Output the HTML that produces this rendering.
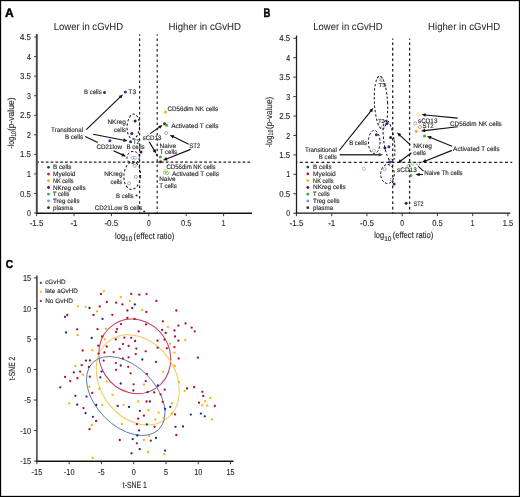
<!DOCTYPE html>
<html><head><meta charset="utf-8"><style>
html,body{margin:0;padding:0;background:#fff;width:520px;height:497px;overflow:hidden}
svg{display:block}
text{font-family:"Liberation Sans", sans-serif}
svg{will-change:transform}
text{stroke:#333;stroke-width:0.14px;text-rendering:geometricPrecision}
</style></head><body>
<svg width="520" height="497" viewBox="0 0 520 497" font-family='"Liberation Sans", sans-serif'>
<rect width="520" height="497" fill="#fff"/>
<text x="5.10" y="16.60" font-size="12.3" textLength="8.70" lengthAdjust="spacingAndGlyphs" font-weight="bold" fill="#000" style="stroke:#000;stroke-width:0.45px">A</text>
<text x="53.75" y="30.00" font-size="10.3" textLength="69.30" lengthAdjust="spacingAndGlyphs" fill="#2a2a2a" style="stroke-width:0.05px">Lower in cGvHD</text>
<text x="168.60" y="29.60" font-size="10.3" textLength="72.40" lengthAdjust="spacingAndGlyphs" fill="#2a2a2a" style="stroke-width:0.05px">Higher in cGvHD</text>
<line x1="36.80" y1="34.00" x2="36.80" y2="213.80" stroke="#4a4a4a" stroke-width="2"/>
<line x1="36.00" y1="213.20" x2="252.00" y2="213.20" stroke="#151515" stroke-width="1.4"/>
<line x1="34.00" y1="213.00" x2="37.00" y2="213.00" stroke="#333" stroke-width="0.9"/>
<text x="30.90" y="216.10" font-size="8.6" text-anchor="end" textLength="3.90" lengthAdjust="spacingAndGlyphs" fill="#262626">0</text>
<line x1="34.00" y1="193.45" x2="37.00" y2="193.45" stroke="#333" stroke-width="0.9"/>
<text x="30.90" y="196.55" font-size="8.6" text-anchor="end" textLength="10.90" lengthAdjust="spacingAndGlyphs" fill="#262626">0.5</text>
<line x1="34.00" y1="173.90" x2="37.00" y2="173.90" stroke="#333" stroke-width="0.9"/>
<text x="30.90" y="177.00" font-size="8.6" text-anchor="end" textLength="3.90" lengthAdjust="spacingAndGlyphs" fill="#262626">1</text>
<line x1="34.00" y1="154.35" x2="37.00" y2="154.35" stroke="#333" stroke-width="0.9"/>
<text x="30.90" y="157.45" font-size="8.6" text-anchor="end" textLength="10.90" lengthAdjust="spacingAndGlyphs" fill="#262626">1.5</text>
<line x1="34.00" y1="134.80" x2="37.00" y2="134.80" stroke="#333" stroke-width="0.9"/>
<text x="30.90" y="137.90" font-size="8.6" text-anchor="end" textLength="3.90" lengthAdjust="spacingAndGlyphs" fill="#262626">2</text>
<line x1="34.00" y1="115.25" x2="37.00" y2="115.25" stroke="#333" stroke-width="0.9"/>
<text x="30.90" y="118.35" font-size="8.6" text-anchor="end" textLength="10.90" lengthAdjust="spacingAndGlyphs" fill="#262626">2.5</text>
<line x1="34.00" y1="95.70" x2="37.00" y2="95.70" stroke="#333" stroke-width="0.9"/>
<text x="30.90" y="98.80" font-size="8.6" text-anchor="end" textLength="3.90" lengthAdjust="spacingAndGlyphs" fill="#262626">3</text>
<line x1="34.00" y1="76.15" x2="37.00" y2="76.15" stroke="#333" stroke-width="0.9"/>
<text x="30.90" y="79.25" font-size="8.6" text-anchor="end" textLength="10.90" lengthAdjust="spacingAndGlyphs" fill="#262626">3.5</text>
<line x1="34.00" y1="56.60" x2="37.00" y2="56.60" stroke="#333" stroke-width="0.9"/>
<text x="30.90" y="59.70" font-size="8.6" text-anchor="end" textLength="3.90" lengthAdjust="spacingAndGlyphs" fill="#262626">4</text>
<line x1="34.00" y1="37.05" x2="37.00" y2="37.05" stroke="#333" stroke-width="0.9"/>
<text x="30.90" y="40.15" font-size="8.6" text-anchor="end" textLength="10.90" lengthAdjust="spacingAndGlyphs" fill="#262626">4.5</text>
<line x1="36.60" y1="213.20" x2="36.60" y2="216.20" stroke="#222" stroke-width="0.9"/>
<text x="36.60" y="226.10" font-size="8.5" text-anchor="middle" textLength="13.90" lengthAdjust="spacingAndGlyphs" fill="#262626">-1.5</text>
<line x1="74.00" y1="213.20" x2="74.00" y2="216.20" stroke="#222" stroke-width="0.9"/>
<text x="74.00" y="226.10" font-size="8.5" text-anchor="middle" textLength="7.10" lengthAdjust="spacingAndGlyphs" fill="#262626">-1</text>
<line x1="111.40" y1="213.20" x2="111.40" y2="216.20" stroke="#222" stroke-width="0.9"/>
<text x="111.40" y="226.10" font-size="8.5" text-anchor="middle" textLength="13.90" lengthAdjust="spacingAndGlyphs" fill="#262626">-0.5</text>
<line x1="148.80" y1="213.20" x2="148.80" y2="216.20" stroke="#222" stroke-width="0.9"/>
<text x="148.80" y="226.10" font-size="8.5" text-anchor="middle" textLength="3.70" lengthAdjust="spacingAndGlyphs" fill="#262626">0</text>
<line x1="186.20" y1="213.20" x2="186.20" y2="216.20" stroke="#222" stroke-width="0.9"/>
<text x="186.20" y="226.10" font-size="8.5" text-anchor="middle" textLength="10.50" lengthAdjust="spacingAndGlyphs" fill="#262626">0.5</text>
<line x1="223.60" y1="213.20" x2="223.60" y2="216.20" stroke="#222" stroke-width="0.9"/>
<text x="223.60" y="226.10" font-size="8.5" text-anchor="middle" textLength="3.70" lengthAdjust="spacingAndGlyphs" fill="#262626">1</text>
<text transform="translate(13.6 148.6) rotate(-90)" font-size="9" fill="#262626"><tspan textLength="11.8" lengthAdjust="spacingAndGlyphs">-log</tspan><tspan font-size="6.8" dy="1.9" textLength="5.8" lengthAdjust="spacingAndGlyphs">10</tspan><tspan dy="-1.9" textLength="33.5" lengthAdjust="spacingAndGlyphs">(p-value)</tspan></text>
<text x="115.1" y="238.8" font-size="9" fill="#262626"><tspan textLength="10" lengthAdjust="spacingAndGlyphs">log</tspan><tspan font-size="6.7" dy="2.1" textLength="7.2" lengthAdjust="spacingAndGlyphs">10</tspan><tspan dy="-2.1" dx="1.3" textLength="40.8" lengthAdjust="spacingAndGlyphs">(effect ratio)</tspan></text>
<line x1="139.60" y1="34.30" x2="139.60" y2="213.00" stroke="#222" stroke-width="1.2" stroke-dasharray="2.3 2.95" stroke-dashoffset="0.95"/>
<line x1="157.20" y1="34.30" x2="157.20" y2="213.00" stroke="#222" stroke-width="1.2" stroke-dasharray="2.3 2.95" stroke-dashoffset="0.95"/>
<line x1="37.50" y1="162.20" x2="252.00" y2="162.20" stroke="#222" stroke-width="1.2" stroke-dasharray="2.7 2.1" stroke-dashoffset="1.3"/>
<circle cx="48.50" cy="167.30" r="1.4" fill="#1d3c84"/>
<text x="53.00" y="169.40" font-size="6.3" textLength="18.50" lengthAdjust="spacingAndGlyphs" fill="#262626">B cells</text>
<circle cx="48.50" cy="174.03" r="1.4" fill="#c0142e"/>
<text x="53.00" y="176.13" font-size="6.3" textLength="22.50" lengthAdjust="spacingAndGlyphs" fill="#262626">Myeloid</text>
<circle cx="48.50" cy="180.76" r="1.4" fill="#f2b20a"/>
<text x="53.00" y="182.86" font-size="6.3" textLength="20.50" lengthAdjust="spacingAndGlyphs" fill="#262626">NK cells</text>
<circle cx="48.50" cy="187.49" r="1.4" fill="#4a1468"/>
<text x="53.00" y="189.59" font-size="6.3" textLength="32.60" lengthAdjust="spacingAndGlyphs" fill="#262626">NKreg cells</text>
<circle cx="48.50" cy="194.22" r="1.4" fill="#4aa93a"/>
<text x="53.00" y="196.32" font-size="6.3" textLength="16.50" lengthAdjust="spacingAndGlyphs" fill="#262626">T cells</text>
<circle cx="48.50" cy="200.95" r="1.4" fill="#58a6e0"/>
<text x="53.00" y="203.05" font-size="6.3" textLength="26.50" lengthAdjust="spacingAndGlyphs" fill="#262626">Treg cells</text>
<circle cx="48.50" cy="207.68" r="1.4" fill="#4a260c"/>
<text x="53.00" y="209.78" font-size="6.3" textLength="20.00" lengthAdjust="spacingAndGlyphs" fill="#262626">plasma</text>
<ellipse cx="133.30" cy="126.50" rx="6.2" ry="12.4" transform="rotate(3 133.30 126.50)" fill="none" stroke="#111" stroke-width="1.0" stroke-dasharray="2.4 1.9"/>
<ellipse cx="133.20" cy="157.40" rx="6.2" ry="6.0" transform="rotate(0 133.20 157.40)" fill="none" stroke="#111" stroke-width="1.0" stroke-dasharray="2.4 1.9"/>
<ellipse cx="132.20" cy="175.60" rx="8.3" ry="13.8" transform="rotate(4 132.20 175.60)" fill="none" stroke="#111" stroke-width="1.0" stroke-dasharray="2.4 1.9"/>
<circle cx="104.50" cy="92.40" r="1.5" fill="#1d3c84"/>
<circle cx="125.30" cy="92.10" r="1.5" fill="#1d3c84"/>
<circle cx="135.10" cy="120.90" r="1.5" fill="#4a1468"/>
<circle cx="131.80" cy="133.40" r="1.5" fill="#4a1468"/>
<circle cx="130.60" cy="141.70" r="1.5" fill="#1d3c84"/>
<circle cx="109.90" cy="140.80" r="1.5" fill="#1d3c84"/>
<circle cx="141.00" cy="151.90" r="1.5" fill="#4a1468"/>
<circle cx="132.60" cy="157.90" r="1.55" fill="none" stroke="#6a90cc" stroke-width="0.55"/>
<circle cx="134.90" cy="157.90" r="1.55" fill="none" stroke="#6a90cc" stroke-width="0.55"/>
<circle cx="134.60" cy="165.90" r="1.55" fill="none" stroke="#8a5aa8" stroke-width="0.55"/>
<circle cx="135.90" cy="177.00" r="1.55" fill="none" stroke="#8a5aa8" stroke-width="0.55"/>
<circle cx="129.10" cy="183.40" r="1.55" fill="none" stroke="#8a5aa8" stroke-width="0.55"/>
<circle cx="136.60" cy="195.50" r="1.1" fill="#1d3c84"/>
<circle cx="144.20" cy="211.70" r="1.1" fill="#1d3c84"/>
<circle cx="165.40" cy="111.90" r="1.5" fill="#f2b20a"/>
<circle cx="164.60" cy="123.80" r="1.5" fill="#4a260c"/>
<circle cx="166.60" cy="125.20" r="1.5" fill="#4aa93a"/>
<circle cx="166.10" cy="133.00" r="1.55" fill="none" stroke="#8b6a4a" stroke-width="0.55"/>
<circle cx="157.00" cy="155.00" r="1.2" fill="#4a260c"/>
<circle cx="160.30" cy="157.10" r="1.5" fill="#4aa93a"/>
<circle cx="160.50" cy="161.80" r="1.5" fill="#4a260c"/>
<circle cx="165.90" cy="170.80" r="1.55" fill="none" stroke="#f2b20a" stroke-width="0.55"/>
<circle cx="164.80" cy="172.60" r="1.55" fill="none" stroke="#4aa93a" stroke-width="0.55"/>
<circle cx="167.10" cy="173.20" r="1.55" fill="none" stroke="#4aa93a" stroke-width="0.55"/>
<text x="101.70" y="93.90" font-size="6.6" text-anchor="end" textLength="17.70" lengthAdjust="spacingAndGlyphs" fill="#262626">B cells</text>
<text x="128.30" y="94.20" font-size="6.6" textLength="7.80" lengthAdjust="spacingAndGlyphs" fill="#262626">T3</text>
<text x="125.90" y="123.70" font-size="6.6" text-anchor="end" textLength="18.50" lengthAdjust="spacingAndGlyphs" fill="#262626">NKreg</text>
<text x="125.90" y="131.70" font-size="6.6" text-anchor="end" textLength="11.80" lengthAdjust="spacingAndGlyphs" fill="#262626">cells</text>
<text x="83.10" y="131.80" font-size="6.6" text-anchor="end" textLength="32.00" lengthAdjust="spacingAndGlyphs" fill="#262626">Transitional</text>
<text x="83.10" y="139.40" font-size="6.6" text-anchor="end" textLength="18.20" lengthAdjust="spacingAndGlyphs" fill="#262626">B cells</text>
<text x="96.40" y="149.10" font-size="6.6" textLength="25.60" lengthAdjust="spacingAndGlyphs" fill="#262626">CD21low</text>
<text x="133.00" y="143.70" font-size="6.6" textLength="6.80" lengthAdjust="spacingAndGlyphs" fill="#262626">T2</text>
<text x="126.40" y="149.20" font-size="6.6" textLength="18.30" lengthAdjust="spacingAndGlyphs" fill="#262626">B cells</text>
<text x="142.70" y="140.00" font-size="6.6" textLength="18.60" lengthAdjust="spacingAndGlyphs" fill="#262626">sCD13</text>
<text x="167.60" y="110.80" font-size="6.6" textLength="50.50" lengthAdjust="spacingAndGlyphs" fill="#262626">CD56dim NK cells</text>
<text x="171.20" y="128.00" font-size="6.6" textLength="47.30" lengthAdjust="spacingAndGlyphs" fill="#262626">Activated T cells</text>
<text x="159.60" y="147.70" font-size="6.6" textLength="16.50" lengthAdjust="spacingAndGlyphs" fill="#262626">Naive</text>
<text x="159.60" y="154.00" font-size="6.6" textLength="17.60" lengthAdjust="spacingAndGlyphs" fill="#262626">T cells</text>
<text x="189.30" y="148.30" font-size="6.6" textLength="11.00" lengthAdjust="spacingAndGlyphs" fill="#262626">ST2</text>
<text x="166.50" y="169.20" font-size="6.6" textLength="49.00" lengthAdjust="spacingAndGlyphs" fill="#262626">CD56dim NK cells</text>
<text x="171.90" y="175.80" font-size="6.6" textLength="47.00" lengthAdjust="spacingAndGlyphs" fill="#262626">Activated T cells</text>
<text x="159.20" y="181.20" font-size="6.6" textLength="16.50" lengthAdjust="spacingAndGlyphs" fill="#262626">Naive</text>
<text x="159.20" y="188.30" font-size="6.6" textLength="17.60" lengthAdjust="spacingAndGlyphs" fill="#262626">T cells</text>
<text x="122.30" y="183.50" font-size="6.6" text-anchor="end" textLength="11.80" lengthAdjust="spacingAndGlyphs" fill="#262626">cells</text>
<text x="122.50" y="175.50" font-size="6.6" text-anchor="end" textLength="18.30" lengthAdjust="spacingAndGlyphs" fill="#262626">NKreg</text>
<text x="133.60" y="197.50" font-size="6.6" text-anchor="end" textLength="17.60" lengthAdjust="spacingAndGlyphs" fill="#262626">B cells</text>
<text x="94.80" y="210.20" font-size="6.6" textLength="47.70" lengthAdjust="spacingAndGlyphs" fill="#262626">CD21Low B cells</text>
<line x1="86.30" y1="129.60" x2="120.33" y2="96.96" stroke="#111" stroke-width="1.15"/>
<polygon points="123.00,94.40 121.21,98.61 118.72,96.01" fill="#111"/>
<line x1="93.10" y1="134.20" x2="123.97" y2="140.19" stroke="#111" stroke-width="1.15"/>
<polygon points="127.60,140.90 123.13,141.87 123.82,138.33" fill="#111"/>
<line x1="85.20" y1="136.40" x2="97.80" y2="142.60" stroke="#111" stroke-width="1.15"/>
<line x1="113.40" y1="150.80" x2="122.62" y2="154.90" stroke="#111" stroke-width="1.15"/>
<polygon points="126.00,156.40 121.43,156.34 122.89,153.05" fill="#111"/>
<line x1="150.20" y1="133.60" x2="159.56" y2="127.11" stroke="#111" stroke-width="1.15"/>
<polygon points="162.60,125.00 160.17,128.87 158.12,125.91" fill="#111"/>
<line x1="149.20" y1="141.70" x2="154.32" y2="150.41" stroke="#111" stroke-width="1.15"/>
<polygon points="156.20,153.60 152.52,150.89 155.62,149.07" fill="#111"/>
<line x1="188.70" y1="144.30" x2="173.11" y2="136.55" stroke="#111" stroke-width="1.15"/>
<polygon points="169.80,134.90 174.36,135.16 172.76,138.38" fill="#111"/>
<line x1="190.60" y1="149.40" x2="166.44" y2="158.94" stroke="#111" stroke-width="1.15"/>
<polygon points="163.00,160.30 166.25,157.08 167.57,160.43" fill="#111"/>
<text x="263.60" y="16.60" font-size="12.3" textLength="6.90" lengthAdjust="spacingAndGlyphs" font-weight="bold" fill="#000" style="stroke:#000;stroke-width:0.45px">B</text>
<text x="313.25" y="29.50" font-size="10.3" textLength="69.30" lengthAdjust="spacingAndGlyphs" fill="#2a2a2a" style="stroke-width:0.05px">Lower in cGvHD</text>
<text x="428.10" y="29.60" font-size="10.3" textLength="72.00" lengthAdjust="spacingAndGlyphs" fill="#2a2a2a" style="stroke-width:0.05px">Higher in cGvHD</text>
<line x1="296.50" y1="35.50" x2="296.50" y2="213.80" stroke="#1e1e1e" stroke-width="1.3"/>
<line x1="295.80" y1="213.20" x2="510.30" y2="213.20" stroke="#151515" stroke-width="1.3"/>
<line x1="293.30" y1="213.20" x2="296.50" y2="213.20" stroke="#222" stroke-width="0.9"/>
<text x="290.20" y="216.30" font-size="8.6" text-anchor="end" textLength="3.90" lengthAdjust="spacingAndGlyphs" fill="#262626">0</text>
<line x1="293.30" y1="193.76" x2="296.50" y2="193.76" stroke="#222" stroke-width="0.9"/>
<text x="290.20" y="196.86" font-size="8.6" text-anchor="end" textLength="10.90" lengthAdjust="spacingAndGlyphs" fill="#262626">0.5</text>
<line x1="293.30" y1="174.33" x2="296.50" y2="174.33" stroke="#222" stroke-width="0.9"/>
<text x="290.20" y="177.43" font-size="8.6" text-anchor="end" textLength="3.90" lengthAdjust="spacingAndGlyphs" fill="#262626">1</text>
<line x1="293.30" y1="154.89" x2="296.50" y2="154.89" stroke="#222" stroke-width="0.9"/>
<text x="290.20" y="157.99" font-size="8.6" text-anchor="end" textLength="10.90" lengthAdjust="spacingAndGlyphs" fill="#262626">1.5</text>
<line x1="293.30" y1="135.46" x2="296.50" y2="135.46" stroke="#222" stroke-width="0.9"/>
<text x="290.20" y="138.56" font-size="8.6" text-anchor="end" textLength="3.90" lengthAdjust="spacingAndGlyphs" fill="#262626">2</text>
<line x1="293.30" y1="116.02" x2="296.50" y2="116.02" stroke="#222" stroke-width="0.9"/>
<text x="290.20" y="119.12" font-size="8.6" text-anchor="end" textLength="10.90" lengthAdjust="spacingAndGlyphs" fill="#262626">2.5</text>
<line x1="293.30" y1="96.59" x2="296.50" y2="96.59" stroke="#222" stroke-width="0.9"/>
<text x="290.20" y="99.69" font-size="8.6" text-anchor="end" textLength="3.90" lengthAdjust="spacingAndGlyphs" fill="#262626">3</text>
<line x1="293.30" y1="77.16" x2="296.50" y2="77.16" stroke="#222" stroke-width="0.9"/>
<text x="290.20" y="80.25" font-size="8.6" text-anchor="end" textLength="10.90" lengthAdjust="spacingAndGlyphs" fill="#262626">3.5</text>
<line x1="293.30" y1="57.72" x2="296.50" y2="57.72" stroke="#222" stroke-width="0.9"/>
<text x="290.20" y="60.82" font-size="8.6" text-anchor="end" textLength="3.90" lengthAdjust="spacingAndGlyphs" fill="#262626">4</text>
<line x1="293.30" y1="38.28" x2="296.50" y2="38.28" stroke="#222" stroke-width="0.9"/>
<text x="290.20" y="41.38" font-size="8.6" text-anchor="end" textLength="10.90" lengthAdjust="spacingAndGlyphs" fill="#262626">4.5</text>
<line x1="296.45" y1="213.20" x2="296.45" y2="216.20" stroke="#222" stroke-width="0.9"/>
<text x="296.45" y="226.00" font-size="8.5" text-anchor="middle" textLength="13.90" lengthAdjust="spacingAndGlyphs" fill="#262626">-1.5</text>
<line x1="331.70" y1="213.20" x2="331.70" y2="216.20" stroke="#222" stroke-width="0.9"/>
<text x="331.70" y="226.00" font-size="8.5" text-anchor="middle" textLength="7.10" lengthAdjust="spacingAndGlyphs" fill="#262626">-1</text>
<line x1="366.95" y1="213.20" x2="366.95" y2="216.20" stroke="#222" stroke-width="0.9"/>
<text x="366.95" y="226.00" font-size="8.5" text-anchor="middle" textLength="13.90" lengthAdjust="spacingAndGlyphs" fill="#262626">-0.5</text>
<line x1="402.20" y1="213.20" x2="402.20" y2="216.20" stroke="#222" stroke-width="0.9"/>
<text x="402.20" y="226.00" font-size="8.5" text-anchor="middle" textLength="3.70" lengthAdjust="spacingAndGlyphs" fill="#262626">0</text>
<line x1="437.45" y1="213.20" x2="437.45" y2="216.20" stroke="#222" stroke-width="0.9"/>
<text x="437.45" y="226.00" font-size="8.5" text-anchor="middle" textLength="10.50" lengthAdjust="spacingAndGlyphs" fill="#262626">0.5</text>
<line x1="472.70" y1="213.20" x2="472.70" y2="216.20" stroke="#222" stroke-width="0.9"/>
<text x="472.70" y="226.00" font-size="8.5" text-anchor="middle" textLength="3.70" lengthAdjust="spacingAndGlyphs" fill="#262626">1</text>
<line x1="507.95" y1="213.20" x2="507.95" y2="216.20" stroke="#222" stroke-width="0.9"/>
<text x="507.95" y="226.00" font-size="8.5" text-anchor="middle" textLength="10.50" lengthAdjust="spacingAndGlyphs" fill="#262626">1.5</text>
<text transform="translate(271.5 147.3) rotate(-90)" font-size="9" fill="#262626"><tspan textLength="11.8" lengthAdjust="spacingAndGlyphs">-log</tspan><tspan font-size="6.8" dy="1.9" textLength="5.8" lengthAdjust="spacingAndGlyphs">10</tspan><tspan dy="-1.9" dx="0.8" textLength="32" lengthAdjust="spacingAndGlyphs">(p-value)</tspan></text>
<text x="374.2" y="238.4" font-size="9" fill="#262626"><tspan textLength="10" lengthAdjust="spacingAndGlyphs">log</tspan><tspan font-size="6.7" dy="2.1" textLength="7.2" lengthAdjust="spacingAndGlyphs">10</tspan><tspan dy="-2.1" dx="1.3" textLength="40.6" lengthAdjust="spacingAndGlyphs">(effect ratio)</tspan></text>
<line x1="392.70" y1="38.50" x2="392.70" y2="213.00" stroke="#222" stroke-width="1.3" stroke-dasharray="2.6 2.7" stroke-dashoffset="1.3"/>
<line x1="409.60" y1="38.50" x2="409.60" y2="213.00" stroke="#222" stroke-width="1.3" stroke-dasharray="2.6 2.7" stroke-dashoffset="1.3"/>
<line x1="297.00" y1="162.40" x2="512.20" y2="162.40" stroke="#222" stroke-width="1.2" stroke-dasharray="2.9 2.5" stroke-dashoffset="2.6"/>
<circle cx="307.80" cy="167.10" r="1.4" fill="#1d3c84"/>
<text x="313.10" y="169.20" font-size="6.3" textLength="18.50" lengthAdjust="spacingAndGlyphs" fill="#262626">B cells</text>
<circle cx="307.80" cy="173.86" r="1.4" fill="#c0142e"/>
<text x="313.10" y="175.96" font-size="6.3" textLength="22.50" lengthAdjust="spacingAndGlyphs" fill="#262626">Myeloid</text>
<circle cx="307.80" cy="180.62" r="1.4" fill="#f2b20a"/>
<text x="313.10" y="182.72" font-size="6.3" textLength="20.50" lengthAdjust="spacingAndGlyphs" fill="#262626">NK cells</text>
<circle cx="307.80" cy="187.38" r="1.4" fill="#4a1468"/>
<text x="313.10" y="189.48" font-size="6.3" textLength="32.60" lengthAdjust="spacingAndGlyphs" fill="#262626">NKreg cells</text>
<circle cx="307.80" cy="194.14" r="1.4" fill="#4aa93a"/>
<text x="313.10" y="196.24" font-size="6.3" textLength="16.50" lengthAdjust="spacingAndGlyphs" fill="#262626">T cells</text>
<circle cx="307.80" cy="200.90" r="1.4" fill="#58a6e0"/>
<text x="313.10" y="203.00" font-size="6.3" textLength="26.50" lengthAdjust="spacingAndGlyphs" fill="#262626">Treg cells</text>
<circle cx="307.80" cy="207.66" r="1.4" fill="#4a260c"/>
<text x="313.10" y="209.76" font-size="6.3" textLength="20.00" lengthAdjust="spacingAndGlyphs" fill="#262626">plasma</text>
<ellipse cx="381.00" cy="102.60" rx="6.6" ry="26.6" transform="rotate(-3 381.00 102.60)" fill="none" stroke="#111" stroke-width="1.0" stroke-dasharray="2.4 1.9"/>
<ellipse cx="374.20" cy="142.00" rx="5.8" ry="11.6" transform="rotate(0 374.20 142.00)" fill="none" stroke="#111" stroke-width="1.0" stroke-dasharray="2.4 1.9"/>
<ellipse cx="389.00" cy="141.00" rx="5.2" ry="21.0" transform="rotate(-8 389.00 141.00)" fill="none" stroke="#111" stroke-width="1.0" stroke-dasharray="2.4 1.9"/>
<ellipse cx="387.50" cy="174.00" rx="6.8" ry="9.5" transform="rotate(0 387.50 174.00)" fill="none" stroke="#111" stroke-width="1.0" stroke-dasharray="2.4 1.9"/>
<circle cx="380.70" cy="79.40" r="1.55" fill="none" stroke="#6a90cc" stroke-width="0.55"/>
<circle cx="381.70" cy="80.10" r="1.55" fill="none" stroke="#6a90cc" stroke-width="0.55"/>
<circle cx="387.00" cy="123.40" r="1.5" fill="#4a1468"/>
<circle cx="382.90" cy="126.60" r="1.55" fill="none" stroke="#6a90cc" stroke-width="0.55"/>
<circle cx="376.40" cy="134.80" r="1.5" fill="#1d3c84"/>
<circle cx="390.70" cy="137.60" r="1.5" fill="#4a1468"/>
<circle cx="384.90" cy="147.90" r="1.5" fill="#4a1468"/>
<circle cx="388.90" cy="146.70" r="1.5" fill="#1d3c84"/>
<circle cx="374.00" cy="150.70" r="1.55" fill="none" stroke="#6a90cc" stroke-width="0.55"/>
<circle cx="390.50" cy="160.40" r="1.55" fill="none" stroke="#8a5aa8" stroke-width="0.55"/>
<circle cx="389.70" cy="162.00" r="1.5" fill="#1d3c84"/>
<circle cx="363.80" cy="168.70" r="1.55" fill="none" stroke="#6a90cc" stroke-width="0.55"/>
<circle cx="384.60" cy="169.20" r="1.55" fill="none" stroke="#8a5aa8" stroke-width="0.55"/>
<circle cx="391.60" cy="179.60" r="1.55" fill="none" stroke="#8a5aa8" stroke-width="0.55"/>
<circle cx="394.20" cy="184.00" r="1.5" fill="#1d3c84"/>
<circle cx="418.40" cy="114.40" r="1.55" fill="none" stroke="#f2b20a" stroke-width="0.55"/>
<circle cx="415.10" cy="123.40" r="1.55" fill="none" stroke="#8b6a4a" stroke-width="0.55"/>
<circle cx="419.90" cy="127.00" r="1.55" fill="none" stroke="#8b6a4a" stroke-width="0.55"/>
<circle cx="416.30" cy="131.30" r="1.5" fill="#f2b20a"/>
<circle cx="424.50" cy="136.00" r="1.5" fill="#4aa93a"/>
<circle cx="412.70" cy="163.80" r="1.55" fill="none" stroke="#4aa93a" stroke-width="0.55"/>
<circle cx="418.10" cy="163.80" r="1.55" fill="none" stroke="#4aa93a" stroke-width="0.55"/>
<circle cx="408.40" cy="166.10" r="1.55" fill="none" stroke="#8b6a4a" stroke-width="0.55"/>
<circle cx="410.80" cy="175.50" r="1.5" fill="#4aa93a"/>
<circle cx="406.10" cy="203.20" r="1.5" fill="#4a260c"/>
<text x="378.50" y="87.30" font-size="5.6" textLength="7.00" lengthAdjust="spacingAndGlyphs" fill="#262626">T3</text>
<text x="378.30" y="122.70" font-size="5.6" textLength="6.20" lengthAdjust="spacingAndGlyphs" fill="#262626">T2</text>
<text x="336.90" y="151.50" font-size="6.6" text-anchor="end" textLength="32.00" lengthAdjust="spacingAndGlyphs" fill="#262626">Transitional</text>
<text x="336.90" y="159.20" font-size="6.6" text-anchor="end" textLength="18.10" lengthAdjust="spacingAndGlyphs" fill="#262626">B cells</text>
<text x="349.20" y="145.40" font-size="6.6" textLength="17.70" lengthAdjust="spacingAndGlyphs" fill="#262626">B cells</text>
<text x="418.10" y="122.50" font-size="6.6" textLength="19.30" lengthAdjust="spacingAndGlyphs" fill="#262626">sCD13</text>
<text x="422.60" y="128.30" font-size="6.6" textLength="11.10" lengthAdjust="spacingAndGlyphs" fill="#262626">ST2</text>
<text x="450.00" y="125.50" font-size="6.6" textLength="51.80" lengthAdjust="spacingAndGlyphs" fill="#262626">CD56dim NK cells</text>
<text x="453.10" y="150.80" font-size="6.6" textLength="46.60" lengthAdjust="spacingAndGlyphs" fill="#262626">Activated T cells</text>
<text x="413.30" y="147.90" font-size="6.6" textLength="18.70" lengthAdjust="spacingAndGlyphs" fill="#262626">NKreg</text>
<text x="413.30" y="155.10" font-size="6.6" textLength="12.70" lengthAdjust="spacingAndGlyphs" fill="#262626">cells</text>
<text x="397.00" y="171.90" font-size="6.6" textLength="19.80" lengthAdjust="spacingAndGlyphs" fill="#262626">sCD13</text>
<text x="424.20" y="175.00" font-size="6.6" textLength="38.50" lengthAdjust="spacingAndGlyphs" fill="#262626">Naive Th cells</text>
<text x="413.50" y="205.50" font-size="6.6" textLength="10.00" lengthAdjust="spacingAndGlyphs" fill="#262626">ST2</text>
<line x1="339.20" y1="150.50" x2="370.99" y2="110.79" stroke="#111" stroke-width="1.15"/>
<polygon points="373.30,107.90 372.08,112.30 369.27,110.05" fill="#111"/>
<line x1="339.70" y1="154.70" x2="379.30" y2="154.70" stroke="#3a3a3a" stroke-width="1.5"/>
<polygon points="383.00,154.70 378.80,156.50 378.80,152.90" fill="#3a3a3a"/>
<line x1="457.70" y1="118.10" x2="425.18" y2="114.96" stroke="#111" stroke-width="1.15"/>
<polygon points="421.50,114.60 425.85,113.21 425.51,116.80" fill="#111"/>
<line x1="457.70" y1="126.80" x2="424.58" y2="130.58" stroke="#111" stroke-width="1.15"/>
<polygon points="420.90,131.00 424.87,128.74 425.28,132.31" fill="#111"/>
<line x1="452.00" y1="146.20" x2="430.44" y2="137.57" stroke="#111" stroke-width="1.15"/>
<polygon points="427.00,136.20 431.57,136.09 430.23,139.43" fill="#111"/>
<line x1="452.00" y1="150.40" x2="425.44" y2="160.94" stroke="#111" stroke-width="1.15"/>
<polygon points="422.00,162.30 425.24,159.08 426.57,162.42" fill="#111"/>
<line x1="410.30" y1="144.80" x2="399.73" y2="135.10" stroke="#111" stroke-width="1.15"/>
<polygon points="397.00,132.60 401.31,134.11 398.88,136.77" fill="#111"/>
<line x1="411.50" y1="152.70" x2="400.54" y2="161.06" stroke="#111" stroke-width="1.15"/>
<polygon points="397.60,163.30 399.85,159.32 402.03,162.18" fill="#111"/>
<line x1="423.50" y1="171.20" x2="418.30" y2="166.40" stroke="#111" stroke-width="1.1"/>
<line x1="422.90" y1="174.50" x2="419.20" y2="174.50" stroke="#111" stroke-width="1.15"/>
<polygon points="415.50,174.50 419.70,172.70 419.70,176.30" fill="#111"/>
<text x="5.80" y="268.30" font-size="11.6" textLength="7.30" lengthAdjust="spacingAndGlyphs" font-weight="bold" fill="#000" style="stroke:#000;stroke-width:0.45px">C</text>
<line x1="36.90" y1="275.50" x2="36.90" y2="461.80" stroke="#3a3a3a" stroke-width="1.5"/>
<line x1="36.20" y1="461.20" x2="233.60" y2="461.20" stroke="#151515" stroke-width="1.4"/>
<line x1="33.90" y1="277.89" x2="36.90" y2="277.89" stroke="#222" stroke-width="0.9"/>
<text x="31.00" y="281.00" font-size="8.6" text-anchor="end" textLength="8.10" lengthAdjust="spacingAndGlyphs" fill="#262626">15</text>
<line x1="230.50" y1="461.20" x2="230.50" y2="464.20" stroke="#222" stroke-width="0.9"/>
<text x="230.50" y="474.60" font-size="8.6" text-anchor="middle" textLength="8.10" lengthAdjust="spacingAndGlyphs" fill="#262626">15</text>
<line x1="33.90" y1="308.43" x2="36.90" y2="308.43" stroke="#222" stroke-width="0.9"/>
<text x="31.00" y="311.53" font-size="8.6" text-anchor="end" textLength="8.10" lengthAdjust="spacingAndGlyphs" fill="#262626">10</text>
<line x1="198.23" y1="461.20" x2="198.23" y2="464.20" stroke="#222" stroke-width="0.9"/>
<text x="198.23" y="474.60" font-size="8.6" text-anchor="middle" textLength="8.10" lengthAdjust="spacingAndGlyphs" fill="#262626">10</text>
<line x1="33.90" y1="338.96" x2="36.90" y2="338.96" stroke="#222" stroke-width="0.9"/>
<text x="31.00" y="342.06" font-size="8.6" text-anchor="end" textLength="4.05" lengthAdjust="spacingAndGlyphs" fill="#262626">5</text>
<line x1="165.96" y1="461.20" x2="165.96" y2="464.20" stroke="#222" stroke-width="0.9"/>
<text x="165.96" y="474.60" font-size="8.6" text-anchor="middle" textLength="4.05" lengthAdjust="spacingAndGlyphs" fill="#262626">5</text>
<line x1="33.90" y1="369.50" x2="36.90" y2="369.50" stroke="#222" stroke-width="0.9"/>
<text x="31.00" y="372.60" font-size="8.6" text-anchor="end" textLength="4.05" lengthAdjust="spacingAndGlyphs" fill="#262626">0</text>
<line x1="133.70" y1="461.20" x2="133.70" y2="464.20" stroke="#222" stroke-width="0.9"/>
<text x="133.70" y="474.60" font-size="8.6" text-anchor="middle" textLength="4.05" lengthAdjust="spacingAndGlyphs" fill="#262626">0</text>
<line x1="33.90" y1="400.04" x2="36.90" y2="400.04" stroke="#222" stroke-width="0.9"/>
<text x="31.00" y="403.14" font-size="8.6" text-anchor="end" textLength="6.65" lengthAdjust="spacingAndGlyphs" fill="#262626">-5</text>
<line x1="101.43" y1="461.20" x2="101.43" y2="464.20" stroke="#222" stroke-width="0.9"/>
<text x="101.43" y="474.60" font-size="8.6" text-anchor="middle" textLength="6.65" lengthAdjust="spacingAndGlyphs" fill="#262626">-5</text>
<line x1="33.90" y1="430.57" x2="36.90" y2="430.57" stroke="#222" stroke-width="0.9"/>
<text x="31.00" y="433.67" font-size="8.6" text-anchor="end" textLength="10.70" lengthAdjust="spacingAndGlyphs" fill="#262626">-10</text>
<line x1="69.17" y1="461.20" x2="69.17" y2="464.20" stroke="#222" stroke-width="0.9"/>
<text x="69.17" y="474.60" font-size="8.6" text-anchor="middle" textLength="10.70" lengthAdjust="spacingAndGlyphs" fill="#262626">-10</text>
<line x1="33.90" y1="461.11" x2="36.90" y2="461.11" stroke="#222" stroke-width="0.9"/>
<text x="31.00" y="464.21" font-size="8.6" text-anchor="end" textLength="10.70" lengthAdjust="spacingAndGlyphs" fill="#262626">-15</text>
<line x1="36.90" y1="461.20" x2="36.90" y2="464.20" stroke="#222" stroke-width="0.9"/>
<text x="36.90" y="474.60" font-size="8.6" text-anchor="middle" textLength="10.70" lengthAdjust="spacingAndGlyphs" fill="#262626">-15</text>
<text x="134.80" y="487.70" font-size="9" text-anchor="middle" textLength="24.00" lengthAdjust="spacingAndGlyphs" fill="#262626">t-SNE 1</text>
<text transform="translate(14.6 368.5) rotate(-90)" font-size="9" text-anchor="middle" textLength="23.7" lengthAdjust="spacingAndGlyphs" fill="#262626">t-SNE 2</text>
<rect x="39.90" y="281.90" width="1.8" height="1.8" fill="#15327a"/>
<text x="45.20" y="284.30" font-size="6.4" textLength="20.40" lengthAdjust="spacingAndGlyphs" fill="#262626">cGvHD</text>
<rect x="39.90" y="290.80" width="1.8" height="1.8" fill="#f5b400"/>
<text x="45.20" y="293.20" font-size="6.4" textLength="32.70" lengthAdjust="spacingAndGlyphs" fill="#262626">late aGvHD</text>
<rect x="39.90" y="300.10" width="1.8" height="1.8" fill="#b30c26"/>
<text x="45.20" y="302.50" font-size="6.4" textLength="27.60" lengthAdjust="spacingAndGlyphs" fill="#262626">No GvHD</text>
<ellipse cx="134.75" cy="356.35" rx="38.2" ry="34.95" transform="rotate(57 134.75 356.35)" fill="none" stroke="#c23a5c" stroke-width="1"/>
<ellipse cx="137.75" cy="379.9" rx="48.4" ry="37.65" transform="rotate(54.7 137.75 379.9)" fill="none" stroke="#f0c95a" stroke-width="1"/>
<ellipse cx="125.75" cy="396" rx="47" ry="29.9" transform="rotate(45.4 125.75 396)" fill="none" stroke="#5570aa" stroke-width="0.9"/>
<circle cx="99.80" cy="306.40" r="1.15" fill="#b30c26"/>
<circle cx="67.20" cy="315.00" r="1.15" fill="#b30c26"/>
<circle cx="93.50" cy="315.00" r="1.15" fill="#b30c26"/>
<circle cx="77.20" cy="329.30" r="1.15" fill="#b30c26"/>
<circle cx="97.50" cy="329.20" r="1.15" fill="#b30c26"/>
<circle cx="101.00" cy="293.90" r="1.15" fill="#b30c26"/>
<circle cx="131.20" cy="293.90" r="1.15" fill="#b30c26"/>
<circle cx="139.30" cy="294.70" r="1.15" fill="#b30c26"/>
<circle cx="146.60" cy="294.10" r="1.15" fill="#b30c26"/>
<circle cx="106.80" cy="302.00" r="1.15" fill="#b30c26"/>
<circle cx="116.10" cy="302.70" r="1.15" fill="#b30c26"/>
<circle cx="122.40" cy="304.40" r="1.15" fill="#b30c26"/>
<circle cx="132.20" cy="308.00" r="1.15" fill="#b30c26"/>
<circle cx="127.40" cy="310.50" r="1.15" fill="#b30c26"/>
<circle cx="146.30" cy="312.00" r="1.15" fill="#b30c26"/>
<circle cx="112.30" cy="314.80" r="1.15" fill="#b30c26"/>
<circle cx="127.40" cy="318.00" r="1.15" fill="#b30c26"/>
<circle cx="134.60" cy="318.90" r="1.15" fill="#b30c26"/>
<circle cx="121.00" cy="324.10" r="1.15" fill="#b30c26"/>
<circle cx="146.00" cy="324.40" r="1.15" fill="#b30c26"/>
<circle cx="117.00" cy="329.10" r="1.15" fill="#b30c26"/>
<circle cx="116.10" cy="331.90" r="1.15" fill="#b30c26"/>
<circle cx="138.70" cy="331.30" r="1.15" fill="#b30c26"/>
<circle cx="102.00" cy="336.40" r="1.15" fill="#b30c26"/>
<circle cx="115.80" cy="339.40" r="1.15" fill="#b30c26"/>
<circle cx="124.30" cy="337.60" r="1.15" fill="#b30c26"/>
<circle cx="131.20" cy="337.80" r="1.15" fill="#b30c26"/>
<circle cx="156.40" cy="300.90" r="1.15" fill="#b30c26"/>
<circle cx="176.30" cy="310.50" r="1.15" fill="#b30c26"/>
<circle cx="162.90" cy="321.30" r="1.15" fill="#b30c26"/>
<circle cx="185.60" cy="323.40" r="1.15" fill="#b30c26"/>
<circle cx="178.40" cy="325.60" r="1.15" fill="#b30c26"/>
<circle cx="191.70" cy="327.70" r="1.15" fill="#b30c26"/>
<circle cx="162.10" cy="329.90" r="1.15" fill="#b30c26"/>
<circle cx="165.70" cy="332.90" r="1.15" fill="#b30c26"/>
<circle cx="174.50" cy="330.50" r="1.15" fill="#b30c26"/>
<circle cx="194.80" cy="331.30" r="1.15" fill="#b30c26"/>
<circle cx="175.00" cy="336.50" r="1.15" fill="#b30c26"/>
<circle cx="164.50" cy="339.60" r="1.15" fill="#b30c26"/>
<circle cx="98.20" cy="345.60" r="1.15" fill="#b30c26"/>
<circle cx="82.60" cy="350.50" r="1.15" fill="#b30c26"/>
<circle cx="98.60" cy="353.60" r="1.15" fill="#b30c26"/>
<circle cx="89.90" cy="360.40" r="1.15" fill="#b30c26"/>
<circle cx="81.70" cy="365.20" r="1.15" fill="#b30c26"/>
<circle cx="88.90" cy="367.00" r="1.15" fill="#b30c26"/>
<circle cx="73.80" cy="372.40" r="1.15" fill="#b30c26"/>
<circle cx="80.10" cy="371.60" r="1.15" fill="#b30c26"/>
<circle cx="65.10" cy="376.90" r="1.15" fill="#b30c26"/>
<circle cx="89.90" cy="376.70" r="1.15" fill="#b30c26"/>
<circle cx="77.40" cy="378.20" r="1.15" fill="#b30c26"/>
<circle cx="70.20" cy="381.10" r="1.15" fill="#b30c26"/>
<circle cx="92.20" cy="392.90" r="1.15" fill="#b30c26"/>
<circle cx="135.10" cy="341.00" r="1.15" fill="#b30c26"/>
<circle cx="106.70" cy="346.50" r="1.15" fill="#b30c26"/>
<circle cx="123.00" cy="344.10" r="1.15" fill="#b30c26"/>
<circle cx="128.60" cy="345.90" r="1.15" fill="#b30c26"/>
<circle cx="119.70" cy="348.90" r="1.15" fill="#b30c26"/>
<circle cx="136.30" cy="348.60" r="1.15" fill="#b30c26"/>
<circle cx="145.70" cy="351.30" r="1.15" fill="#b30c26"/>
<circle cx="104.40" cy="352.50" r="1.15" fill="#b30c26"/>
<circle cx="113.70" cy="352.10" r="1.15" fill="#b30c26"/>
<circle cx="135.80" cy="354.10" r="1.15" fill="#b30c26"/>
<circle cx="128.60" cy="357.30" r="1.15" fill="#b30c26"/>
<circle cx="122.80" cy="358.30" r="1.15" fill="#b30c26"/>
<circle cx="103.70" cy="360.60" r="1.15" fill="#b30c26"/>
<circle cx="115.80" cy="363.10" r="1.15" fill="#b30c26"/>
<circle cx="128.20" cy="366.80" r="1.15" fill="#b30c26"/>
<circle cx="116.10" cy="369.80" r="1.15" fill="#b30c26"/>
<circle cx="130.60" cy="373.30" r="1.15" fill="#b30c26"/>
<circle cx="146.90" cy="373.90" r="1.15" fill="#b30c26"/>
<circle cx="145.70" cy="381.10" r="1.15" fill="#b30c26"/>
<circle cx="133.60" cy="384.30" r="1.15" fill="#b30c26"/>
<circle cx="133.40" cy="390.50" r="1.15" fill="#b30c26"/>
<circle cx="157.50" cy="340.70" r="1.15" fill="#b30c26"/>
<circle cx="178.40" cy="340.70" r="1.15" fill="#b30c26"/>
<circle cx="157.60" cy="347.70" r="1.15" fill="#b30c26"/>
<circle cx="166.90" cy="348.30" r="1.15" fill="#b30c26"/>
<circle cx="174.40" cy="347.10" r="1.15" fill="#b30c26"/>
<circle cx="178.60" cy="358.50" r="1.15" fill="#b30c26"/>
<circle cx="197.90" cy="357.70" r="1.15" fill="#b30c26"/>
<circle cx="156.00" cy="361.90" r="1.15" fill="#b30c26"/>
<circle cx="164.70" cy="389.70" r="1.15" fill="#b30c26"/>
<circle cx="187.10" cy="388.50" r="1.15" fill="#b30c26"/>
<circle cx="194.10" cy="387.20" r="1.15" fill="#b30c26"/>
<circle cx="202.30" cy="391.80" r="1.15" fill="#b30c26"/>
<circle cx="154.20" cy="392.40" r="1.15" fill="#b30c26"/>
<circle cx="160.60" cy="394.30" r="1.15" fill="#b30c26"/>
<circle cx="203.30" cy="396.00" r="1.15" fill="#b30c26"/>
<circle cx="199.00" cy="402.70" r="1.15" fill="#b30c26"/>
<circle cx="214.80" cy="406.00" r="1.15" fill="#b30c26"/>
<circle cx="83.50" cy="408.10" r="1.15" fill="#b30c26"/>
<circle cx="96.10" cy="421.00" r="1.15" fill="#b30c26"/>
<circle cx="89.50" cy="429.20" r="1.15" fill="#b30c26"/>
<circle cx="146.60" cy="401.50" r="1.15" fill="#b30c26"/>
<circle cx="143.90" cy="415.70" r="1.15" fill="#b30c26"/>
<circle cx="138.20" cy="418.70" r="1.15" fill="#b30c26"/>
<circle cx="136.90" cy="424.20" r="1.15" fill="#b30c26"/>
<circle cx="154.50" cy="426.80" r="1.15" fill="#b30c26"/>
<circle cx="119.80" cy="440.00" r="1.15" fill="#b30c26"/>
<circle cx="150.80" cy="440.70" r="1.15" fill="#b30c26"/>
<circle cx="136.90" cy="443.30" r="1.15" fill="#b30c26"/>
<circle cx="162.70" cy="401.80" r="1.15" fill="#b30c26"/>
<circle cx="175.10" cy="414.40" r="1.15" fill="#b30c26"/>
<circle cx="176.30" cy="435.00" r="1.15" fill="#b30c26"/>
<circle cx="78.00" cy="306.30" r="1.15" fill="#f5b400"/>
<circle cx="85.60" cy="306.80" r="1.15" fill="#f5b400"/>
<circle cx="97.00" cy="311.40" r="1.15" fill="#f5b400"/>
<circle cx="77.70" cy="335.20" r="1.15" fill="#f5b400"/>
<circle cx="103.80" cy="291.10" r="1.15" fill="#f5b400"/>
<circle cx="120.70" cy="297.10" r="1.15" fill="#f5b400"/>
<circle cx="129.80" cy="300.80" r="1.15" fill="#f5b400"/>
<circle cx="142.30" cy="309.80" r="1.15" fill="#f5b400"/>
<circle cx="105.90" cy="328.90" r="1.15" fill="#f5b400"/>
<circle cx="104.90" cy="339.40" r="1.15" fill="#f5b400"/>
<circle cx="167.90" cy="327.10" r="1.15" fill="#f5b400"/>
<circle cx="185.30" cy="340.20" r="1.15" fill="#f5b400"/>
<circle cx="92.30" cy="350.10" r="1.15" fill="#f5b400"/>
<circle cx="75.40" cy="366.00" r="1.15" fill="#f5b400"/>
<circle cx="83.10" cy="374.80" r="1.15" fill="#f5b400"/>
<circle cx="89.30" cy="386.90" r="1.15" fill="#f5b400"/>
<circle cx="99.50" cy="388.70" r="1.15" fill="#f5b400"/>
<circle cx="106.70" cy="381.70" r="1.15" fill="#f5b400"/>
<circle cx="143.90" cy="384.70" r="1.15" fill="#f5b400"/>
<circle cx="112.50" cy="394.80" r="1.15" fill="#f5b400"/>
<circle cx="169.90" cy="343.80" r="1.15" fill="#f5b400"/>
<circle cx="174.50" cy="352.70" r="1.15" fill="#f5b400"/>
<circle cx="174.70" cy="366.00" r="1.15" fill="#f5b400"/>
<circle cx="163.00" cy="371.80" r="1.15" fill="#f5b400"/>
<circle cx="179.00" cy="382.10" r="1.15" fill="#f5b400"/>
<circle cx="184.60" cy="390.80" r="1.15" fill="#f5b400"/>
<circle cx="210.40" cy="398.00" r="1.15" fill="#f5b400"/>
<circle cx="205.10" cy="401.20" r="1.15" fill="#f5b400"/>
<circle cx="202.10" cy="405.30" r="1.15" fill="#f5b400"/>
<circle cx="207.30" cy="405.70" r="1.15" fill="#f5b400"/>
<circle cx="211.90" cy="419.40" r="1.15" fill="#f5b400"/>
<circle cx="69.20" cy="403.30" r="1.15" fill="#f5b400"/>
<circle cx="91.90" cy="425.00" r="1.15" fill="#f5b400"/>
<circle cx="138.20" cy="401.50" r="1.15" fill="#f5b400"/>
<circle cx="102.20" cy="404.80" r="1.15" fill="#f5b400"/>
<circle cx="123.60" cy="404.80" r="1.15" fill="#f5b400"/>
<circle cx="148.40" cy="410.20" r="1.15" fill="#f5b400"/>
<circle cx="121.80" cy="424.00" r="1.15" fill="#f5b400"/>
<circle cx="149.10" cy="436.10" r="1.15" fill="#f5b400"/>
<circle cx="143.90" cy="440.00" r="1.15" fill="#f5b400"/>
<circle cx="172.10" cy="403.30" r="1.15" fill="#f5b400"/>
<circle cx="158.70" cy="412.70" r="1.15" fill="#f5b400"/>
<circle cx="171.70" cy="413.50" r="1.15" fill="#f5b400"/>
<circle cx="155.40" cy="419.60" r="1.15" fill="#f5b400"/>
<circle cx="163.60" cy="417.80" r="1.15" fill="#f5b400"/>
<circle cx="148.00" cy="452.00" r="1.15" fill="#f5b400"/>
<circle cx="164.20" cy="454.20" r="1.15" fill="#f5b400"/>
<circle cx="92.70" cy="457.90" r="1.15" fill="#f5b400"/>
<circle cx="89.50" cy="308.00" r="1.15" fill="#15327a"/>
<circle cx="65.00" cy="316.80" r="1.15" fill="#15327a"/>
<circle cx="66.00" cy="332.50" r="1.15" fill="#15327a"/>
<circle cx="91.70" cy="338.00" r="1.15" fill="#15327a"/>
<circle cx="134.80" cy="304.40" r="1.15" fill="#15327a"/>
<circle cx="102.50" cy="318.90" r="1.15" fill="#15327a"/>
<circle cx="85.90" cy="360.60" r="1.15" fill="#15327a"/>
<circle cx="60.30" cy="387.30" r="1.15" fill="#15327a"/>
<circle cx="142.30" cy="359.50" r="1.15" fill="#15327a"/>
<circle cx="120.70" cy="365.50" r="1.15" fill="#15327a"/>
<circle cx="101.60" cy="371.60" r="1.15" fill="#15327a"/>
<circle cx="100.40" cy="377.30" r="1.15" fill="#15327a"/>
<circle cx="120.70" cy="383.50" r="1.15" fill="#15327a"/>
<circle cx="147.50" cy="392.20" r="1.15" fill="#15327a"/>
<circle cx="157.80" cy="385.50" r="1.15" fill="#15327a"/>
<circle cx="190.80" cy="414.60" r="1.15" fill="#15327a"/>
<circle cx="200.90" cy="413.60" r="1.15" fill="#15327a"/>
<circle cx="204.80" cy="416.30" r="1.15" fill="#15327a"/>
<circle cx="75.40" cy="395.80" r="1.15" fill="#15327a"/>
<circle cx="86.50" cy="396.60" r="1.15" fill="#15327a"/>
<circle cx="77.20" cy="404.70" r="1.15" fill="#15327a"/>
<circle cx="96.30" cy="405.00" r="1.15" fill="#15327a"/>
<circle cx="85.60" cy="413.20" r="1.15" fill="#15327a"/>
<circle cx="92.90" cy="416.80" r="1.15" fill="#15327a"/>
<circle cx="149.90" cy="401.50" r="1.15" fill="#15327a"/>
<circle cx="117.70" cy="405.90" r="1.15" fill="#15327a"/>
<circle cx="129.00" cy="406.90" r="1.15" fill="#15327a"/>
<circle cx="139.90" cy="410.80" r="1.15" fill="#15327a"/>
<circle cx="146.90" cy="424.40" r="1.15" fill="#15327a"/>
<circle cx="139.10" cy="430.40" r="1.15" fill="#15327a"/>
<circle cx="137.30" cy="435.50" r="1.15" fill="#15327a"/>
<circle cx="132.70" cy="439.10" r="1.15" fill="#15327a"/>
<circle cx="139.70" cy="449.20" r="1.15" fill="#15327a"/>
<circle cx="170.30" cy="406.90" r="1.15" fill="#15327a"/>
<circle cx="165.10" cy="409.00" r="1.15" fill="#15327a"/>
<circle cx="175.50" cy="426.80" r="1.15" fill="#15327a"/>
<circle cx="183.00" cy="426.50" r="1.15" fill="#15327a"/>
<circle cx="156.00" cy="438.00" r="1.15" fill="#15327a"/>
<circle cx="165.00" cy="450.60" r="1.15" fill="#15327a"/>
<circle cx="131.50" cy="453.30" r="1.15" fill="#15327a"/>
<rect x="0.5" y="0.5" width="519" height="496" fill="none" stroke="#000" stroke-width="1.3"/>
</svg>
</body></html>
